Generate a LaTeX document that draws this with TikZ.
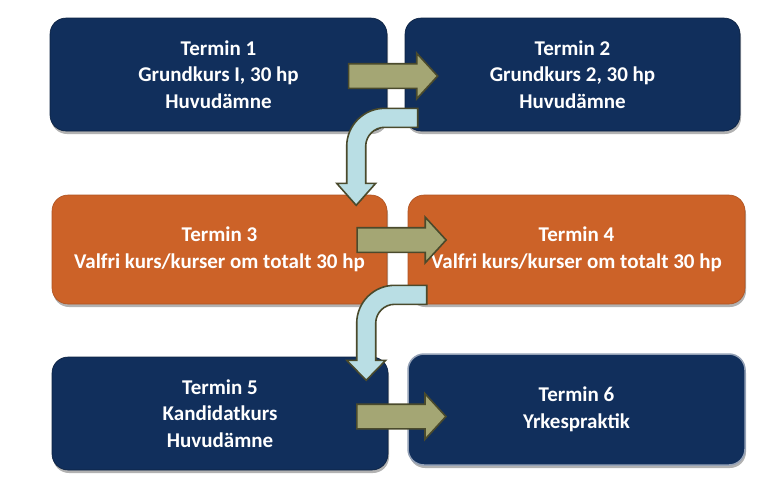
\documentclass[tikz,border=0pt]{standalone}
\usepackage{fontspec}
\setmainfont{Carlito}
\usetikzlibrary{calc,shapes.arrows,shadows}
\definecolor{termnavy}{HTML}{112F5C}
\definecolor{termorange}{HTML}{CC6228}
\definecolor{stepgreen}{HTML}{A4A674}
\definecolor{stepedge}{HTML}{4A4A2C}
\definecolor{bendblue}{HTML}{B9DEE4}
\tikzset{
  termbox/.style={rounded corners=16pt, inner sep=0pt, align=center, text=white,
    font=\fontsize{21}{26.5}\selectfont\bfseries,
    drop shadow={shadow xshift=1pt, shadow yshift=-3pt, opacity=0.3, fill=black}},
  navybox/.style={termbox, fill=termnavy, draw=termnavy!70!black, line width=0.6pt},
  orangebox/.style={termbox, fill=termorange, draw=termorange!85!black, line width=0.6pt},
  steparrow/.style={single arrow, single arrow head extend=10.5pt, single arrow tip angle=95,
    inner xsep=0pt, inner ysep=11.5pt, minimum height=89pt, fill=stepgreen, draw=stepedge, line width=1.6pt},
  bendarrow/.style={fill=bendblue, draw=stepedge, line width=1.6pt, line join=miter}
}
\begin{document}
\begin{tikzpicture}[x=1pt,y=1pt]
\useasboundingbox (0,0) rectangle (768,-483);
% semesters
\node[navybox, minimum width=337pt, minimum height=113pt] (term1) at (218.5,-74.5) {Termin 1\\Grundkurs I, 30 hp\\Huvudämne};
\node[navybox, minimum width=335pt, minimum height=113pt] (term2) at (572.5,-74.5) {Termin 2\\Grundkurs 2, 30 hp\\Huvudämne};
\node[orangebox, minimum width=335pt, minimum height=109pt] (term3) at (219.5,-249.5) {Termin 3\\Valfri kurs/kurser om totalt 30 hp};
\node[orangebox, minimum width=337pt, minimum height=109pt] (term4) at (576.5,-249.5) {Termin 4\\Valfri kurs/kurser om totalt 30 hp};
\node[navybox, minimum width=336pt, minimum height=113pt] (term5) at (220,-413.5) {Termin 5\\Kandidatkurs\\Huvudämne};
\node[navybox, minimum width=337pt, minimum height=111pt, draw=termnavy!45!white, line width=1.5pt] (term6) at (576.5,-409.5) {Termin 6\\Yrkespraktik};
% straight arrows
\node[steparrow] (step12) at ($(term1.east)!0.5!(term2.west)+(-8.5,-1.5)$) {};
\node[steparrow] (step34) at ($(term3.east)!0.5!(term4.west)+(-1.5,9.5)$) {};
\node[steparrow] (step56) at ($(term5.east)!0.5!(term6.west)+(-2,-5)$) {};
% bent arrows
\coordinate (bend23) at ($(term2.south west)+(13,23)$);
\coordinate (bend45) at ($(term4.south west)+(19,19)$);
\draw[bendarrow] (bend23) -- ++(-33,0) arc[start angle=90, end angle=180, radius=38]
  -- ++(0,-37) -- ++(-10,0) -- ++(19.5,-22) -- ++(19.5,22) -- ++(-10,0) -- ++(0,37)
  arc[start angle=180, end angle=90, radius=19] -- ++(33,0) -- cycle;
\draw[bendarrow] (bend45) -- ++(-32,0) arc[start angle=90, end angle=180, radius=38]
  -- ++(0,-37) -- ++(-10,0) -- ++(19.5,-20) -- ++(19.5,20) -- ++(-10,0) -- ++(0,37)
  arc[start angle=180, end angle=90, radius=19] -- ++(32,0) -- cycle;
\end{tikzpicture}
\end{document}
